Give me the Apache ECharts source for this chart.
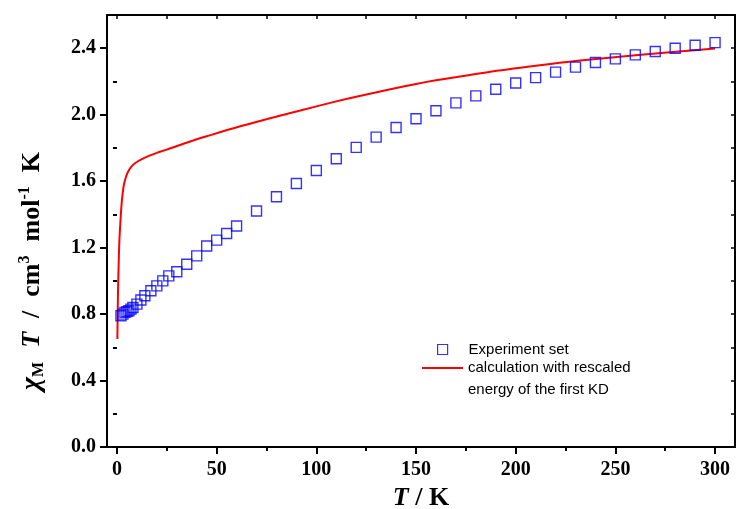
<!DOCTYPE html>
<html>
<head>
<meta charset="utf-8">
<script src="https://cdn.jsdelivr.net/npm/echarts@6/dist/echarts.min.js"></script>
<style>
  html, body { margin: 0; padding: 0; background: #fff; }
  #chart { width: 737px; height: 509px; }
</style>
</head>
<body>
<div id="chart"></div>
<script>
// Measured chi_M*T versus temperature
const expT = [2, 3, 4, 5, 6, 7, 8, 10, 12, 14, 17, 20, 23, 26, 30, 35, 40, 45, 50, 55, 60,
  70, 80, 90, 100, 110, 120, 130, 140, 150, 160, 170, 180, 190, 200, 210, 220, 230, 240,
  250, 260, 270, 280, 290, 300];
const expChiT = [0.79, 0.80, 0.81, 0.815, 0.82, 0.83, 0.84, 0.86, 0.885, 0.91, 0.94, 0.97,
  1.0, 1.03, 1.055, 1.10, 1.15, 1.21, 1.245, 1.285, 1.33,
  1.42, 1.506, 1.586, 1.664, 1.735, 1.803, 1.865, 1.923, 1.976, 2.024, 2.071, 2.113,
  2.153, 2.191, 2.223, 2.256, 2.286, 2.314, 2.336, 2.36, 2.38, 2.40, 2.418, 2.434];

// Calculated curve (rescaled energy of the first Kramers doublet)
const calcT = [0.2, 0.5, 0.8, 1.2, 1.7, 2.3, 2.8, 3.5, 4.5, 5.5, 7, 9, 12, 16, 20, 25, 36,
  45, 61, 86, 100, 110, 120, 136, 150, 160, 186, 210, 231, 260, 300];
const calcChiT = [0.65, 0.92, 1.08, 1.24, 1.35, 1.46, 1.52, 1.58, 1.625, 1.655, 1.685,
  1.708, 1.73, 1.752, 1.77, 1.79, 1.836, 1.87, 1.927, 2.007, 2.05, 2.08, 2.108, 2.15,
  2.185, 2.207, 2.256, 2.294, 2.324, 2.358, 2.398];

// Tick positions
const xMajorTicks = [0, 50, 100, 150, 200, 250, 300];
const xMinorTicks = [25, 75, 125, 175, 225, 275];
const xTopTicks = [0, 25, 50, 75, 100, 125, 150, 175, 200, 225, 250, 275, 300];
const yMajorTicks = [0, 0.4, 0.8, 1.2, 1.6, 2.0, 2.4];
const yMinorTicks = [0.2, 0.6, 1.0, 1.4, 1.8, 2.2];
const yRightTicks = [0, 0.2, 0.4, 0.6, 0.8, 1.0, 1.2, 1.4, 1.6, 1.8, 2.0, 2.2, 2.4, 2.6];

const seriesExp = 'Experiment set';
const seriesCalc = 'calculation with rescaled\nenergy of the first KD';

const serif = '"Liberation Serif", "Times New Roman", serif';
const sans = '"Liberation Sans", Arial, sans-serif';
const black = '#000';

const X_MIN = -5, X_MAX = 310, Y_MIN = 0, Y_MAX = 2.6;

function baseX(extra) {
  return Object.assign({
    type: 'value', min: X_MIN, max: X_MAX, gridIndex: 0,
    splitLine: { show: false },
    axisLine: { show: false },
    axisLabel: { show: false },
    axisTick: { show: false }
  }, extra);
}
function baseY(extra) {
  return Object.assign({
    type: 'value', min: Y_MIN, max: Y_MAX, gridIndex: 0,
    splitLine: { show: false },
    axisLine: { show: false },
    axisLabel: { show: false },
    axisTick: { show: false }
  }, extra);
}

const titleFont = 26;
const scriptFont = 16;
function titleStyle(extra) {
  return Object.assign({ fontFamily: serif, fontWeight: 'bold', fontSize: titleFont,
    color: black, lineHeight: 30 }, extra);
}

const chart = echarts.init(document.getElementById('chart'), null, { renderer: 'canvas' });

chart.setOption({
  animation: false,
  backgroundColor: '#fff',
  grid: { left: 107, top: 15, right: 2, bottom: 62, containLabel: false, outerBoundsMode: 'none' },
  xAxis: [
    baseX({
      position: 'bottom',
      axisLine: { show: true, onZero: false, lineStyle: { color: black, width: 2 } },
      axisTick: { show: true, inside: false, length: 7, customValues: xMajorTicks,
        lineStyle: { color: black, width: 2 } },
      axisLabel: { show: true, customValues: xMajorTicks, margin: 13,
        color: black, fontFamily: serif, fontWeight: 'bold', fontSize: 20 },
      name: '{i|T}{b| / K}',
      nameLocation: 'middle',
      nameGap: 27,
      nameTextStyle: {
        rich: {
          i: titleStyle({ fontStyle: 'italic' }),
          b: titleStyle({})
        }
      }
    }),
    baseX({
      position: 'bottom',
      axisTick: { show: true, inside: false, length: 4, customValues: xMinorTicks,
        lineStyle: { color: black, width: 2 } }
    }),
    baseX({
      position: 'top',
      axisLine: { show: true, onZero: false, lineStyle: { color: black, width: 2 } },
      axisTick: { show: true, inside: true, length: 4, customValues: xTopTicks,
        lineStyle: { color: black, width: 1.5 } }
    })
  ],
  yAxis: [
    baseY({
      position: 'left',
      axisLine: { show: true, onZero: false, lineStyle: { color: black, width: 2 } },
      axisTick: { show: true, inside: false, length: 7, customValues: yMajorTicks,
        lineStyle: { color: black, width: 2 } },
      axisLabel: { show: true, customValues: yMajorTicks, margin: 11,
        formatter: v => Number(v).toFixed(1),
        color: black, fontFamily: serif, fontWeight: 'bold', fontSize: 20 },
      name: '{chi|χ}{sub|M}{sp|}{it|T}{sp|}{b|/}{sp|}{b|cm}{sup|3}{sp|}{b|mol}{sup|-1}{sp|}{b|K}{gap|}',
      nameLocation: 'middle',
      nameRotate: 90,
      nameGap: 60,
      nameTextStyle: {
        rich: {
          chi: titleStyle({ fontStyle: 'italic', fontSize: 28 }),
          it: titleStyle({ fontStyle: 'italic' }),
          b: titleStyle({}),
          sub: titleStyle({ fontSize: scriptFont, verticalAlign: 'bottom' }),
          sup: titleStyle({ fontSize: scriptFont, verticalAlign: 'top' }),
          sp: { width: 14 },
          gap: { width: 80 }
        }
      }
    }),
    baseY({
      position: 'left',
      axisTick: { show: true, inside: false, length: 4, customValues: yMinorTicks,
        lineStyle: { color: black, width: 2 } }
    }),
    baseY({
      position: 'right',
      axisLine: { show: true, onZero: false, lineStyle: { color: black, width: 2 } },
      axisTick: { show: true, inside: true, length: 4, customValues: yRightTicks,
        lineStyle: { color: black, width: 1.5 } }
    })
  ],
  legend: [
    {
      data: [seriesExp],
      left: 437, top: 342, padding: 0,
      selectedMode: false,
      itemWidth: 10, itemHeight: 10,
      icon: 'rect',
      itemStyle: { color: 'transparent', borderColor: '#0000ff', borderWidth: 1.2 },
      textStyle: { fontFamily: sans, fontSize: 15, color: black, padding: [0, 0, 0, 16] }
    },
    {
      data: [seriesCalc],
      left: 421, top: 335, padding: 0,
      selectedMode: false,
      itemWidth: 41, itemHeight: 14,
      itemStyle: { color: 'rgba(0,0,0,0)', borderWidth: 0, opacity: 0 },
      // leading blank line keeps the first text line level with the line icon
      formatter: name => '\n' + name,
      textStyle: { fontFamily: sans, fontSize: 15, color: black, lineHeight: 22 }
    }
  ],
  series: [
    {
      name: seriesCalc,
      type: 'line',
      xAxisIndex: 0, yAxisIndex: 0,
      data: calcT.map((t, i) => [t, calcChiT[i]]),
      smooth: 0.3,
      showSymbol: false,
      symbol: 'none',
      lineStyle: { color: '#ff0000', width: 2 },
      itemStyle: { color: '#ff0000' },
      z: 2
    },
    {
      name: seriesExp,
      type: 'scatter',
      xAxisIndex: 0, yAxisIndex: 0,
      data: expT.map((t, i) => [t, expChiT[i]]),
      symbol: 'rect',
      symbolSize: 10,
      itemStyle: { color: 'transparent', borderColor: '#0000ff', borderWidth: 1.4 },
      z: 3
    }
  ]
});
</script>
</body>
</html>
